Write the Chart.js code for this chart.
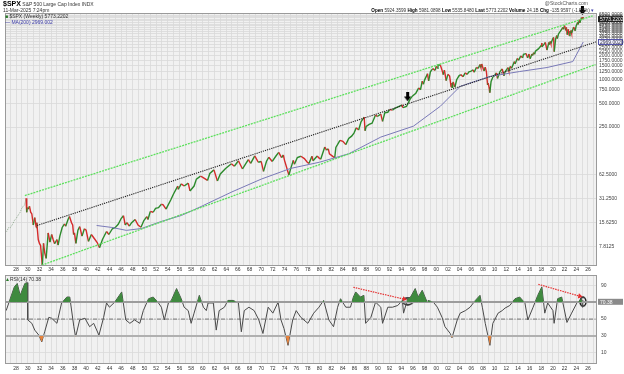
<!DOCTYPE html>
<html>
<head>
<meta charset="utf-8">
<script src="https://cdn.jsdelivr.net/npm/chart.js@4.4.1/dist/chart.umd.min.js"></script>
<style>
  body { margin: 0; background: #fff; width: 624px; height: 374px; overflow: hidden; font-family: "Liberation Sans", Arial, sans-serif; }
  #wrap { position: relative; width: 624px; height: 374px; }
  #main { position: absolute; left: 0; top: 0; }
  #rsi { position: absolute; left: 0; top: 268px; }
  .t { position: absolute; font-size: 5px; line-height: 5px; color: #333; white-space: nowrap; }
  .t b { color: #000; }
</style>
</head>
<body>
<div id="wrap">
  <canvas id="main" width="624" height="274"></canvas>
  <canvas id="rsi" width="624" height="106"></canvas>
  <div class="t" style="left:3px;top:1px;"><b style="font-size:7px;">$SPX</b> S&amp;P 500 Large Cap Index INDX</div>
  <div class="t" style="left:3px;top:8px;">11-Mar-2025 7:24pm</div>
  <div class="t" style="left:5px;top:14px;"><span style="color:#2a7a2a;">&#9632;</span> $SPX (Weekly) 5773.2202</div>
  <div class="t" style="left:5px;top:19.5px;color:#3a3aa8;">&#8212; MA(200) 2969.002</div>
  <div class="t" style="right:36px;top:1px;color:#555;">@StockCharts.com</div>
  <div class="t" style="right:30px;top:8px;font-size:4.6px;"><b>Open</b> 5924.3599 <b>High</b> 5981.0898 <b>Low</b> 5535.8480 <b>Last</b> 5773.2202 <b>Volume</b> 24.1B <b>Chg</b> -135.9597 (-1.55%) <span style="color:#3a3aa8;">&#9662;</span></div>
  <div class="t" style="left:5px;top:276.5px;"><span style="color:#2a7a2a;">&#9650;</span>RSI(14) 70.38</div>
</div>
<script>
// pre-1929 history (thin dotted)
const earlyYears = [1926.1, 1926.4, 1926.7, 1927.0, 1927.4, 1927.7, 1928.0, 1928.4, 1928.7, 1929.0, 1929.4, 1929.7];
const earlyValues = [12.6, 12.0, 13.4, 13.4, 14.8, 16.5, 17.5, 19.5, 21.0, 24.0, 25.5, 31.0];

// weekly $SPX (sampled)
const priceYears = [
  1929.70, 1929.82, 1929.90, 1930.10, 1930.30, 1930.50, 1930.70, 1930.95, 1931.20, 1931.45, 1931.55, 1931.80,
  1932.00, 1932.20, 1932.50, 1932.70, 1932.90, 1933.15, 1933.50, 1933.80, 1934.10, 1934.35, 1934.60, 1935.00,
  1935.20, 1935.50, 1935.90, 1936.30, 1936.50, 1936.90, 1937.15, 1937.50, 1937.70, 1937.85, 1938.00, 1938.25,
  1938.60, 1938.90, 1939.30, 1939.70, 1940.00, 1940.40, 1940.90, 1941.40, 1941.90, 1942.30, 1942.80, 1943.50,
  1943.90, 1944.50, 1945.00, 1945.50, 1946.00, 1946.40, 1946.70, 1947.00, 1947.40, 1947.80, 1948.40, 1948.90,
  1949.40, 1949.90, 1950.40, 1950.60, 1951.00, 1951.50, 1951.90, 1952.40, 1952.90, 1953.20, 1953.70, 1954.00,
  1954.50, 1955.00, 1955.70, 1955.80, 1956.30, 1956.80, 1957.50, 1957.80, 1958.50, 1958.90, 1959.60, 1960.00,
  1960.80, 1961.20, 1961.90, 1962.50, 1963.00, 1963.90, 1964.90, 1965.40, 1966.10, 1966.80, 1967.80, 1968.20,
  1968.90, 1969.50, 1970.00, 1970.40, 1970.90, 1971.30, 1971.90, 1972.50, 1973.00, 1973.50, 1973.80, 1974.00,
  1974.75, 1975.00, 1975.50, 1975.70, 1976.20, 1976.80, 1977.40, 1977.90, 1978.20, 1978.70, 1978.90, 1979.60,
  1979.90, 1980.20, 1980.90, 1981.20, 1981.50, 1981.70, 1982.60, 1982.80, 1983.50, 1984.00, 1984.50, 1985.00,
  1985.50, 1985.90, 1986.30, 1986.70, 1987.10, 1987.65, 1987.80, 1988.00, 1988.50, 1989.00, 1989.60, 1989.90,
  1990.50, 1990.80, 1991.20, 1991.70, 1992.00, 1992.50, 1993.00, 1993.90, 1994.10, 1994.30, 1994.90, 1995.50,
  1995.90, 1996.50, 1997.00, 1997.30, 1997.60, 1997.80, 1998.00, 1998.50, 1998.70, 1999.00, 1999.40, 1999.80,
  2000.00, 2000.20, 2000.30, 2000.70, 2001.00, 2001.20, 2001.40, 2001.70, 2002.00, 2002.30, 2002.55, 2002.70,
  2002.80, 2002.90, 2003.20, 2003.50, 2003.90, 2004.20, 2004.60, 2004.95, 2005.30, 2005.60, 2005.90, 2006.30,
  2006.50, 2006.90, 2007.20, 2007.50, 2007.65, 2007.80, 2008.00, 2008.20, 2008.40, 2008.60, 2008.80, 2008.90,
  2009.05, 2009.18, 2009.40, 2009.70, 2010.00, 2010.30, 2010.50, 2010.90, 2011.30, 2011.60, 2011.80, 2012.30,
  2012.45, 2012.70, 2012.90, 2013.40, 2013.50, 2013.90, 2014.10, 2014.50, 2014.80, 2014.95, 2015.40, 2015.65,
  2015.90, 2016.10, 2016.40, 2016.50, 2016.70, 2016.85, 2017.00, 2017.50, 2017.99, 2018.07, 2018.12, 2018.40,
  2018.70, 2018.98, 2019.30, 2019.40, 2019.55, 2019.65, 2019.95, 2020.12, 2020.22, 2020.45, 2020.65, 2020.75,
  2020.95, 2021.40, 2021.70, 2021.80, 2021.99, 2022.20, 2022.30, 2022.45, 2022.62, 2022.78, 2022.92, 2023.00,
  2023.10, 2023.20, 2023.55, 2023.80, 2023.99, 2024.25, 2024.30, 2024.55, 2024.60, 2024.90, 2024.98, 2025.14,
  2025.19
];
const priceValues = [
  31.5, 21.0, 24.0, 23.0, 25.0, 21.0, 20.0, 14.5, 18.0, 13.5, 15.5, 9.5,
  8.5, 8.0, 4.4, 8.5, 6.5, 5.5, 11.5, 8.8, 11.0, 9.5, 8.4, 9.5,
  8.1, 10.5, 13.5, 15.0, 14.0, 17.0, 18.6, 15.5, 14.5, 11.0, 11.5, 8.5,
  12.5, 13.8, 10.5, 13.0, 12.5, 9.0, 11.0, 9.8, 8.7, 7.5, 9.5, 12.0,
  11.0, 13.0, 13.5, 14.8, 17.5, 19.0, 14.5, 15.5, 14.0, 15.5, 17.0, 14.5,
  13.6, 16.5, 18.5, 17.0, 21.5, 21.0, 23.5, 24.0, 26.5, 26.0, 23.0, 25.5,
  30.0, 36.0, 45.0, 41.0, 48.0, 45.0, 49.0, 39.0, 45.0, 55.0, 60.0, 58.0,
  53.0, 65.0, 72.0, 52.0, 64.0, 75.0, 86.0, 80.0, 94.0, 74.0, 97.0, 87.0,
  108.0, 90.0, 92.0, 69.0, 92.0, 104.0, 92.0, 107.0, 120.0, 103.0, 111.0, 95.0,
  62.0, 72.0, 95.0, 85.0, 103.0, 107.0, 100.0, 90.0, 87.0, 107.0, 94.0, 108.0,
  102.0, 98.0, 140.0, 128.0, 133.0, 115.0, 102.0, 138.0, 170.0, 165.0, 150.0, 180.0,
  192.0, 210.0, 245.0, 230.0, 290.0, 335.0, 225.0, 255.0, 270.0, 280.0, 355.0, 340.0,
  365.0, 295.0, 380.0, 385.0, 415.0, 410.0, 435.0, 465.0, 480.0, 440.0, 455.0, 560.0,
  615.0, 670.0, 780.0, 740.0, 950.0, 870.0, 980.0, 1180.0, 960.0, 1250.0, 1370.0, 1300.0,
  1460.0, 1380.0, 1520.0, 1520.0, 1300.0, 1150.0, 1310.0, 965.0, 1160.0, 1100.0, 800.0, 900.0,
  780.0, 930.0, 800.0, 990.0, 1110.0, 1150.0, 1080.0, 1210.0, 1160.0, 1245.0, 1260.0, 1320.0,
  1230.0, 1420.0, 1380.0, 1540.0, 1420.0, 1565.0, 1400.0, 1280.0, 1430.0, 1250.0, 850.0, 900.0,
  800.0, 680.0, 940.0, 1070.0, 1120.0, 1210.0, 1030.0, 1250.0, 1360.0, 1110.0, 1250.0, 1410.0,
  1280.0, 1460.0, 1380.0, 1680.0, 1570.0, 1840.0, 1740.0, 1980.0, 1870.0, 2080.0, 2120.0, 1870.0,
  2090.0, 1830.0, 2100.0, 2000.0, 2180.0, 2080.0, 2270.0, 2430.0, 2680.0, 2870.0, 2580.0, 2730.0,
  2930.0, 2350.0, 2940.0, 2750.0, 3020.0, 2840.0, 3230.0, 3390.0, 2240.0, 3200.0, 3580.0, 3270.0,
  3750.0, 4200.0, 4530.0, 4300.0, 4790.0, 4170.0, 4550.0, 3670.0, 4300.0, 3580.0, 4080.0, 3810.0,
  4150.0, 3850.0, 4590.0, 4120.0, 4770.0, 5250.0, 4950.0, 5670.0, 5180.0, 6050.0, 5880.0, 6140.0,
  5773.0
];

// MA(200)
const maYears = [1941.8, 1944.4, 1946.9, 1949.5, 1952.9, 1956.3, 1959.7, 1965.0, 1970.0, 1975.0, 1980.0, 1985.0,
  1990.5, 1996.1, 2000.7, 2004.1, 2009.2, 2014.3, 2019.0, 2023.4, 2025.19];
const maValues = [14.3, 13.5, 12.4, 13.1, 16.1, 19.1, 24.8, 38, 55, 75, 90, 115,
  187, 257, 458, 817, 1091, 1258, 1414, 1681, 2969];

// trendlines: [year, value] pairs
const upperChannel = [[1929.5, 34.1], [2026.8, 6350]];
const lowerChannel = [[1932.4, 4.5], [2027.3, 1542]];
const midTrend = [[1931.6, 14.3], [2027.5, 2994]];
const arrowMarks = [[1995.1, 600], [2025.05, 7400]];

// RSI(14)
const rsiYears = [1926.3, 1927.7, 1928.2, 1928.7, 1929.5, 1929.9, 1930.0, 1930.7, 1931.2, 1931.9, 1932.4, 1932.9,
  1933.6, 1934.1, 1935.0, 1935.8, 1936.7, 1937.2, 1937.9, 1938.2, 1938.9, 1939.8, 1940.6, 1941.3,
  1942.2, 1943.0, 1943.5, 1944.0, 1944.9, 1945.7, 1946.1, 1946.8, 1947.5, 1948.3, 1949.2, 1949.8,
  1950.7, 1951.5, 1952.4, 1952.9, 1953.4, 1954.1, 1954.6, 1955.5, 1956.3, 1956.8, 1957.5, 1958.0,
  1958.5, 1959.4, 1960.1, 1960.6, 1960.9, 1961.8, 1962.3, 1962.8, 1963.7, 1964.3, 1965.2, 1966.1,
  1966.6, 1967.1, 1967.9, 1968.8, 1969.6, 1970.3, 1971.2, 1972.0, 1972.9, 1973.4, 1973.9, 1974.6,
  1975.4, 1976.0, 1976.8, 1978.0, 1979.0, 1979.9, 1980.7, 1981.6, 1982.4, 1983.1, 1983.6, 1984.5,
  1985.3, 1985.8, 1986.2, 1987.0, 1987.6, 1987.9, 1988.8, 1989.6, 1990.5, 1990.8, 1991.7, 1992.5,
  1993.4, 1994.2, 1994.4, 1995.1, 1995.6, 1996.4, 1996.9, 1997.6, 1998.5, 1998.6, 1999.5, 2000.2,
  2001.0, 2001.5, 2002.4, 2002.7, 2003.6, 2004.1, 2005.0, 2005.8, 2006.7, 2007.5, 2007.9, 2008.4,
  2008.9, 2009.2, 2009.7, 2010.6, 2011.3, 2011.8, 2012.6, 2013.5, 2014.3, 2015.2, 2015.7, 2016.6,
  2017.4, 2018.1, 2018.6, 2019.1, 2020.0, 2020.2, 2020.8, 2021.5, 2022.4, 2023.2, 2024.1, 2024.6,
  2024.9, 2025.05, 2025.12, 2025.19];
const rsiValues = [60, 88, 92, 78, 92, 93, 49, 45, 37, 31, 23, 35,
  52, 51, 45, 69, 76, 76, 41, 29, 49, 51, 41, 45,
  31, 52, 69, 64, 70, 78, 82, 49, 45, 49, 45, 60,
  74, 76, 69, 64, 49, 69, 72, 86, 74, 64, 60, 45,
  57, 78, 64, 60, 69, 69, 37, 60, 64, 72, 72, 69,
  35, 60, 64, 60, 49, 33, 64, 57, 70, 49, 39, 19,
  49, 60, 52, 45, 57, 64, 72, 49, 41, 64, 74, 64,
  64, 76, 82, 76, 78, 45, 52, 70, 64, 45, 64, 64,
  66, 72, 57, 74, 76, 86, 76, 84, 69, 72, 70, 64,
  52, 41, 33, 28, 49, 57, 60, 64, 72, 78, 64, 45,
  29, 19, 45, 57, 60, 63, 66, 74, 76, 69, 49, 64,
  78, 88, 57, 69, 60, 45, 74, 76, 46, 57, 69, 72,
  74, 64, 72, 70.38];
const rsiLevels = [70, 50, 30];
const rsiTicks = [10, 30, 50, 70, 90];
const divergence1 = [[1985.8, 87.5], [1994.5, 73.5]];
const divergence2 = [[2017.5, 91], [2024.6, 77]];
const circleMarks = [[1995.1, 71], [2025.15, 70.5]];

const priceTicks = [7.8125, 15.625, 31.25, 62.5, 250, 500, 750, 1000, 1250, 1500, 1750, 2000, 2250, 2500,
  2750, 3000, 3250, 3500, 3750, 4000, 4250, 4500, 4750, 5000, 5250, 5500, 5750, 6000, 6250, 6500];

const X_MIN = 1926.1, X_MAX = 2027.55;
const UP = '#2c8a2c', DOWN = '#d42a2a';
const tickFont = { family: 'Liberation Sans', size: 5 };

const toXY = (xs, ys) => xs.map((x, i) => ({ x: x, y: ys[i] }));
const pairs = (arr) => arr.map(p => ({ x: p[0], y: p[1] }));

const yearTicks = (scale) => {
  const t = [];
  for (let y = 1927; y <= 2027; y++) t.push({ value: y });
  scale.ticks = t;
};
const yearLabel = (v) => (v % 2 === 0 ? String(v % 100).padStart(2, '0') : '');

const arrowImg = (() => {
  const c = document.createElement('canvas');
  c.width = 7; c.height = 9;
  const g = c.getContext('2d');
  g.fillStyle = '#000';
  g.fillRect(2, 0, 3, 5);
  g.beginPath(); g.moveTo(0, 4); g.lineTo(7, 4); g.lineTo(3.5, 9); g.closePath(); g.fill();
  return c;
})();
const ellipseImg = (w, h) => {
  const c = document.createElement('canvas');
  c.width = w; c.height = h;
  const g = c.getContext('2d');
  g.strokeStyle = '#111'; g.lineWidth = 1.4;
  g.beginPath(); g.ellipse(w / 2, h / 2, w / 2 - 1, h / 2 - 1, 0, 0, Math.PI * 2); g.stroke();
  return c;
};

const plotBg = {
  id: 'plotBg',
  beforeDraw(chart) {
    const a = chart.chartArea, g = chart.ctx;
    g.save();
    g.fillStyle = '#f1f1f1';
    g.fillRect(a.left, a.top, a.right - a.left, a.bottom - a.top);
    g.restore();
  },
  afterDraw(chart) {
    const a = chart.chartArea, g = chart.ctx;
    g.save();
    g.strokeStyle = '#9a9a9a';
    g.lineWidth = 1;
    g.strokeRect(a.left + 0.5, a.top + 0.5, a.right - a.left - 1, a.bottom - a.top - 1);
    g.restore();
  }
};

const valueTags = {
  id: 'valueTags',
  afterDraw(chart, args, opts) {
    const g = chart.ctx, ys = chart.scales.y, a = chart.chartArea;
    g.save();
    g.font = '5px Liberation Sans';
    g.textBaseline = 'middle';
    opts.tags.forEach(tag => {
      const py = ys.getPixelForValue(tag.value);
      g.fillStyle = tag.fill;
      g.fillRect(a.right + 1, py - 3, 25, 6);
      if (tag.stroke) {
        g.strokeStyle = tag.stroke; g.lineWidth = 1;
        g.strokeRect(a.right + 1.5, py - 2.5, 24, 5);
      }
      g.fillStyle = tag.color;
      g.fillText(tag.text, a.right + 3, py + 0.5);
    });
    g.restore();
  }
};

const lineSet = (data, color, width, dash) => ({
  type: 'line', data: data, borderColor: color, borderWidth: width, borderDash: dash || [],
  pointRadius: 0, fill: false, tension: 0
});

new Chart(document.getElementById('main'), {
  type: 'line',
  data: {
    datasets: [
      lineSet(pairs(upperChannel), '#5de05d', 1.3, [2, 1]),
      lineSet(pairs(lowerChannel), '#5de05d', 1.3, [2, 1]),
      lineSet(pairs(midTrend), '#222', 1.1, [1.2, 1]),
      lineSet(toXY(maYears, maValues), '#7a7ab8', 1, null),
      lineSet(toXY(earlyYears, earlyValues), '#7c9a7c', 0.8, [1, 1]),
      {
        type: 'line', data: toXY(priceYears, priceValues), borderWidth: 1.4, pointRadius: 0, tension: 0,
        borderColor: UP,
        segment: { borderColor: c => (c.p1.parsed.y >= c.p0.parsed.y ? UP : DOWN) }
      },
      {
        type: 'scatter', data: pairs(arrowMarks), pointStyle: arrowImg, pointRadius: 4, clip: false
      }
    ]
  },
  options: {
    animation: false, responsive: false, events: [],
    layout: { padding: { left: 3, top: 13, right: 0, bottom: 0 } },
    plugins: {
      legend: { display: false }, tooltip: { enabled: false },
      valueTags: { tags: [
        { value: 5773.22, text: '5773.2202', fill: '#222', color: '#fff' },
        { value: 2969.0, text: '2969.0020', fill: '#eef', color: '#334', stroke: '#5555aa' }
      ] }
    },
    scales: {
      x: {
        type: 'linear', min: X_MIN, max: X_MAX,
        afterBuildTicks: yearTicks,
        afterFit: s => { s.height = 8; },
        ticks: { autoSkip: false, maxRotation: 0, padding: 1, font: tickFont, color: '#333', callback: yearLabel },
        grid: { color: '#d9d9d9', lineWidth: 0.8, drawTicks: false },
        border: { display: false }
      },
      y: {
        type: 'logarithmic', position: 'right', min: 4.4, max: 6900,
        afterBuildTicks: s => { s.ticks = priceTicks.map(v => ({ value: v })); },
        afterFit: s => { s.width = 27; },
        ticks: { autoSkip: false, padding: 2, font: tickFont, color: '#444', callback: v => Number(v).toFixed(4) },
        grid: { color: '#d9d9d9', lineWidth: 0.8, drawTicks: false },
        border: { display: false }
      }
    }
  },
  plugins: [plotBg, valueTags]
});

const arrowSet = (seg) => ({
  type: 'line', data: pairs(seg), borderColor: '#e53030', borderWidth: 1.2, borderDash: [1.5, 1],
  pointRadius: [0, 3], pointStyle: 'triangle', pointRotation: 103, pointBackgroundColor: '#e53030',
  pointBorderWidth: 0, fill: false
});

new Chart(document.getElementById('rsi'), {
  type: 'line',
  data: {
    datasets: [
      {
        data: toXY(rsiYears, rsiValues), borderWidth: 0, pointRadius: 0,
        fill: { target: { value: 70 }, above: '#3f8a3f', below: 'rgba(0,0,0,0)' }
      },
      {
        data: toXY(rsiYears, rsiValues), borderWidth: 0, pointRadius: 0,
        fill: { target: { value: 30 }, above: 'rgba(0,0,0,0)', below: '#e8823a' }
      },
      lineSet([{ x: X_MIN, y: rsiLevels[0] }, { x: X_MAX, y: rsiLevels[0] }], '#9c9c9c', 2, null),
      lineSet([{ x: X_MIN, y: rsiLevels[2] }, { x: X_MAX, y: rsiLevels[2] }], '#b0b0b0', 2, null),
      lineSet([{ x: X_MIN, y: rsiLevels[1] }, { x: X_MAX, y: rsiLevels[1] }], '#555', 0.8, [4, 1.5, 1, 1.5]),
      lineSet(toXY(rsiYears, rsiValues), '#4a4a4a', 1, null),
      arrowSet(divergence1),
      arrowSet(divergence2),
      {
        type: 'scatter', data: pairs(circleMarks), pointStyle: [ellipseImg(12, 9), ellipseImg(8, 11)], clip: false
      }
    ]
  },
  options: {
    animation: false, responsive: false, events: [],
    layout: { padding: { left: 3, top: 1, right: 0, bottom: 0 } },
    plugins: {
      legend: { display: false }, tooltip: { enabled: false },
      valueTags: { tags: [{ value: 70.38, text: '70.38', fill: '#8a8a8a', color: '#fff' }] }
    },
    scales: {
      x: {
        type: 'linear', min: X_MIN, max: X_MAX,
        afterBuildTicks: yearTicks,
        afterFit: s => { s.height = 10; },
        ticks: { autoSkip: false, maxRotation: 0, padding: 2, font: tickFont, color: '#333', callback: yearLabel },
        grid: { color: '#d9d9d9', lineWidth: 0.8, drawTicks: false },
        border: { display: false }
      },
      y: {
        position: 'right', min: -3, max: 102,
        afterBuildTicks: s => { s.ticks = rsiTicks.map(v => ({ value: v })); },
        afterFit: s => { s.width = 27; },
        ticks: { autoSkip: false, padding: 4, font: tickFont, color: '#444' },
        grid: { color: '#dadada', lineWidth: 0.8, drawTicks: false },
        border: { display: false }
      }
    }
  },
  plugins: [plotBg, valueTags]
});
</script>
</body>
</html>
